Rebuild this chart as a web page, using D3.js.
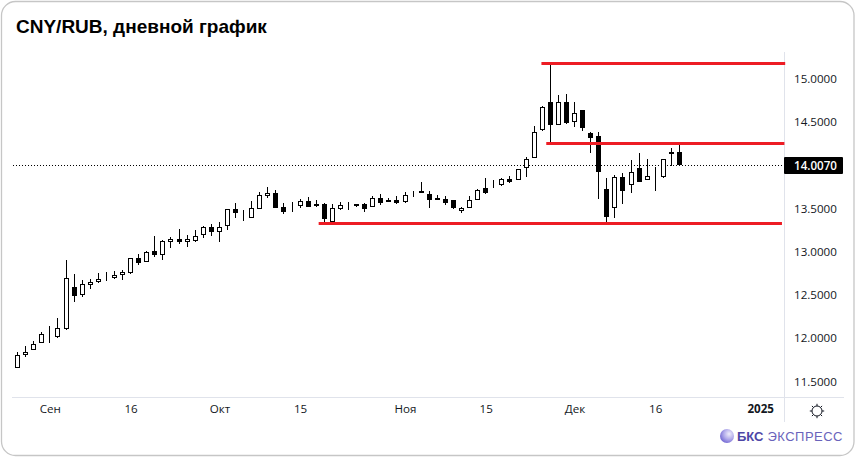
<!DOCTYPE html>
<html><head><meta charset="utf-8">
<script src="https://cdn.jsdelivr.net/npm/d3@7/dist/d3.min.js"></script>
<style>html,body{margin:0;padding:0;background:#fff;overflow:hidden}svg{display:block}</style>
</head><body><div id="c"></div>
<script>
const open=[11.656,11.806,11.864,11.945,12.049,12.014,12.107,12.592,12.499,12.615,12.650,12.696,12.696,12.730,12.753,12.927,12.880,13.008,12.961,13.111,13.146,13.111,13.123,13.192,13.285,13.227,13.296,13.493,13.446,13.389,13.493,13.643,13.677,13.516,13.516,13.527,13.585,13.551,13.551,13.342,13.493,13.539,13.551,13.551,13.516,13.620,13.573,13.597,13.573,13.666,13.677,13.666,13.597,13.608,13.597,13.470,13.504,13.597,13.735,13.758,13.770,13.839,13.828,13.966,14.082,14.405,14.729,14.463,14.729,14.498,14.636,14.370,14.336,13.724,13.504,13.862,13.770,13.966,13.828,13.874,13.862,14.128,14.151];
const close=[11.806,11.841,11.933,12.049,12.049,12.118,12.696,12.488,12.626,12.650,12.684,12.696,12.730,12.765,12.927,12.869,12.996,12.961,13.123,13.146,13.111,13.146,13.181,13.285,13.227,13.285,13.493,13.446,13.446,13.504,13.654,13.677,13.504,13.458,13.516,13.585,13.516,13.527,13.377,13.504,13.539,13.539,13.527,13.493,13.620,13.562,13.597,13.562,13.654,13.654,13.701,13.597,13.620,13.562,13.504,13.504,13.597,13.712,13.677,13.758,13.839,13.805,13.955,14.070,14.382,14.671,14.463,14.729,14.486,14.601,14.428,14.313,13.920,13.400,13.862,13.701,13.920,13.805,13.874,13.862,14.070,14.151,14.001];
const high=[11.841,11.910,11.968,12.072,12.141,12.234,12.904,12.742,12.673,12.684,12.753,12.765,12.776,12.788,12.927,12.973,13.008,13.181,13.135,13.169,13.262,13.192,13.250,13.296,13.319,13.342,13.493,13.562,13.481,13.585,13.689,13.747,13.712,13.562,13.573,13.608,13.631,13.597,13.562,13.551,13.573,13.573,13.551,13.562,13.643,13.666,13.620,13.643,13.689,13.701,13.805,13.701,13.654,13.643,13.597,13.516,13.643,13.724,13.851,13.828,13.851,13.874,13.955,14.093,14.451,14.682,15.179,14.809,14.821,14.729,14.636,14.382,14.382,13.851,13.885,13.908,14.059,14.140,14.070,13.978,14.070,14.197,14.244];
const low=[11.656,11.783,11.864,11.945,11.945,12.002,12.095,12.418,12.476,12.569,12.638,12.661,12.684,12.673,12.742,12.846,12.880,12.938,12.904,13.042,13.088,13.054,13.111,13.158,13.181,13.111,13.250,13.389,13.354,13.389,13.493,13.620,13.504,13.435,13.458,13.504,13.516,13.516,13.342,13.342,13.481,13.481,13.516,13.458,13.516,13.539,13.573,13.551,13.562,13.631,13.677,13.504,13.597,13.539,13.493,13.446,13.504,13.597,13.666,13.735,13.758,13.793,13.828,13.862,14.082,14.394,14.255,14.463,14.475,14.440,14.394,14.140,13.608,13.342,13.389,13.551,13.677,13.805,13.828,13.701,13.851,13.989,13.989];
const priceTicks=[15,14.5,14,13.5,13,12.5,12,11.5];
const timeTickIndex=[4,14,25,35,48,58,69,79,92];
const timeTickLabels=["Сен","16","Окт","15","Ноя","15","Дек","16","2025"];
const lastPrice=14.007;
const levelValues=[15.18,14.25,13.326];
const levelFrom=[64.9,65.5,37.3];
const levelTo=[95.1,95,94.7];

const W=857,H=460;
const svg=d3.select("#c").append("svg").attr("width",W).attr("height",H);
const x=d3.scaleLinear().domain([0,82]).range([17.6,679.45]);
const y=d3.scaleLinear().domain([11.5,15]).range([381.5,78.5]);
const ff="'Open Sans','Noto Sans',sans-serif";
const fs=11.6;

svg.append("rect").attr("x",1.5).attr("y",1.5).attr("width",852.5).attr("height",454).attr("rx",14)
  .attr("fill","#fff").attr("stroke","#c6c6c6").attr("stroke-width",1.3);
svg.append("text").attr("x",16).attr("y",32.5).attr("font-family","'Liberation Sans',Arial,sans-serif")
  .attr("font-weight",700).attr("font-size",19).attr("fill","#000").text("CNY/RUB, дневной график");

// frame lines
svg.append("line").attr("x1",12).attr("x2",844).attr("y1",397.5).attr("y2",397.5).attr("stroke","#e0e3eb");
svg.append("line").attr("x1",784.5).attr("x2",784.5).attr("y1",52).attr("y2",422).attr("stroke","#e0e3eb");

// price axis
const yAxis=d3.axisRight(y).tickValues(priceTicks).tickSize(0).tickPadding(0).tickFormat(d3.format(".4f"));
const gy=svg.append("g").attr("transform","translate(794,0)").call(yAxis);
gy.select(".domain").remove();
gy.selectAll("text").attr("font-family",ff).attr("font-size",fs).attr("fill","#131722");

// time axis
const xAxis=d3.axisBottom(x).tickValues(timeTickIndex).tickSize(0).tickPadding(0)
  .tickFormat((d,i)=>timeTickLabels[i]);
const gx=svg.append("g").attr("transform","translate(0,405)").call(xAxis);
gx.select(".domain").remove();
gx.selectAll("text").attr("font-family",ff).attr("font-size",fs).attr("fill","#131722")
  .attr("font-weight",(d,i)=>timeTickLabels[i]==="2025"?700:400);

// last price line
const lp=Math.ceil(y(lastPrice));
svg.append("line").attr("x1",13).attr("x2",784).attr("y1",lp+.5).attr("y2",lp+.5)
  .attr("stroke","#000").attr("stroke-dasharray","1 2");

// candles
const g=svg.append("g");
const idx=d3.range(open.length);
g.selectAll("rect.w").data(idx).join("rect").attr("class","w")
  .attr("x",i=>Math.floor(x(i))).attr("width",1)
  .attr("y",i=>Math.round(y(high[i])))
  .attr("height",i=>Math.round(y(low[i]))-Math.round(y(high[i])))
  .attr("fill","#000");
g.selectAll("rect.b").data(idx).join("rect").attr("class","b")
  .attr("x",i=>Math.floor(x(i))-2+.5).attr("width",4)
  .attr("y",i=>Math.round(y(Math.max(open[i],close[i])))+.5)
  .attr("height",i=>Math.max(0,Math.round(y(Math.min(open[i],close[i])))-Math.round(y(Math.max(open[i],close[i])))-1))
  .attr("fill",i=>close[i]>open[i]?"#fff":"#000").attr("stroke","#000").attr("stroke-width",1)
  .attr("shape-rendering","crispEdges");

// levels
svg.selectAll("rect.l").data(levelValues).join("rect").attr("class","l")
  .attr("x",(d,i)=>x(levelFrom[i])).attr("width",(d,i)=>x(levelTo[i])-x(levelFrom[i]))
  .attr("y",d=>Math.round(y(d))-1).attr("height",3).attr("fill","#ed1c24");

// price label
svg.append("rect").attr("x",784).attr("y",157).attr("width",59).attr("height",17).attr("rx",1).attr("fill","#000");
svg.append("text").attr("x",794).attr("y",lp+4.5).attr("font-family",ff).attr("font-size",fs)
  .attr("font-weight",600).attr("fill","#fff").text(d3.format(".4f")(lastPrice));

// sun icon
const sun=svg.append("g").attr("transform","translate(817,411)").attr("stroke","#131722").attr("fill","none");
sun.append("circle").attr("r",5);
d3.range(8).forEach(k=>{const a=k*Math.PI/4;
  sun.append("line").attr("x1",5*Math.cos(a)).attr("y1",5*Math.sin(a)).attr("x2",7.2*Math.cos(a)).attr("y2",7.2*Math.sin(a));});

// logo
const defs=svg.append("defs");
const rg=defs.append("radialGradient").attr("id","ball").attr("cx","65%").attr("cy","35%").attr("r","75%");
rg.append("stop").attr("offset","0%").attr("stop-color","#efedfb");
rg.append("stop").attr("offset","50%").attr("stop-color","#b3aceb");
rg.append("stop").attr("offset","100%").attr("stop-color","#6a5fd0");
svg.append("circle").attr("cx",727).attr("cy",436).attr("r",7).attr("fill","url(#ball)");
svg.append("text").attr("x",737).attr("y",441).attr("font-family","'Liberation Sans',Arial,sans-serif")
  .attr("font-weight",700).attr("font-size",13).attr("fill","#4d46a6").text("БКС");
svg.append("text").attr("x",767.5).attr("y",441).attr("font-family","'Liberation Sans',Arial,sans-serif")
  .attr("font-size",13).attr("fill","#6a63bb").attr("textLength",75).text("ЭКСПРЕСС");
</script></body></html>
